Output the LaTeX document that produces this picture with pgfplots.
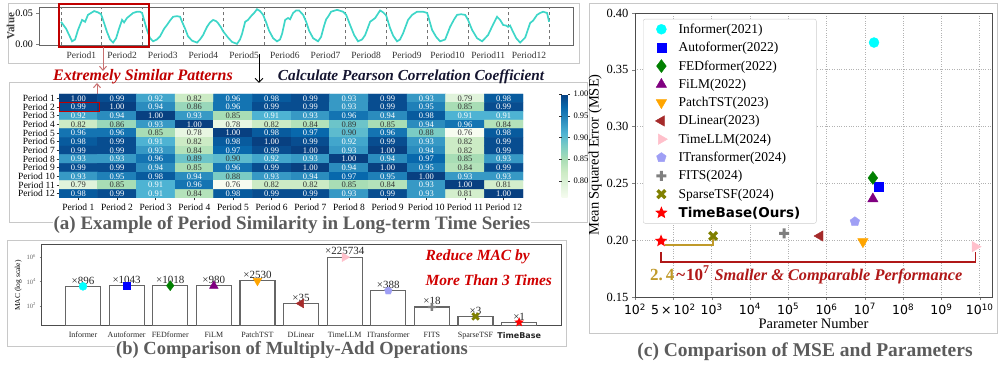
\documentclass[border=0pt]{standalone}
\usepackage{fontspec}
\setmainfont{Liberation Serif}
\newfontfamily\dejavu{DejaVu Sans}
\usepackage{pgfplots}
\pgfplotsset{compat=1.18}
\usepackage{pgfplotstable}
\usetikzlibrary{arrows.meta}

\definecolor{tsline}{HTML}{3ED6C8}
\definecolor{boxgray}{HTML}{C8C8C8}
\definecolor{titlegray}{HTML}{5C5C5C}
\definecolor{darkred}{HTML}{C00000}
\definecolor{arrowred}{HTML}{C87070}
\definecolor{navytext}{HTML}{151530}
\definecolor{gold}{HTML}{C09A2A}
\definecolor{bracketred}{HTML}{B01818}
\definecolor{redtext}{HTML}{D00000}
\definecolor{cyanc}{HTML}{00FFFF}
\definecolor{bluec}{HTML}{0000FF}
\definecolor{greenc}{HTML}{008000}
\definecolor{purplec}{HTML}{800080}
\definecolor{orangec}{HTML}{FFA500}
\definecolor{brownc}{HTML}{A52A2A}
\definecolor{pinkc}{HTML}{FFC0CB}
\definecolor{lavc}{HTML}{9F9FF5}
\definecolor{grayc}{HTML}{808080}
\definecolor{olivec}{HTML}{808000}
\definecolor{redc}{HTML}{FF0000}

\pgfdeclareplotmark{fstar}{%
  \pgfpathmoveto{\pgfpointpolar{90}{\pgfplotmarksize}}%
  \pgfpathlineto{\pgfpointpolar{126}{0.45\pgfplotmarksize}}%
  \pgfpathlineto{\pgfpointpolar{162}{\pgfplotmarksize}}%
  \pgfpathlineto{\pgfpointpolar{198}{0.45\pgfplotmarksize}}%
  \pgfpathlineto{\pgfpointpolar{234}{\pgfplotmarksize}}%
  \pgfpathlineto{\pgfpointpolar{270}{0.45\pgfplotmarksize}}%
  \pgfpathlineto{\pgfpointpolar{306}{\pgfplotmarksize}}%
  \pgfpathlineto{\pgfpointpolar{342}{0.45\pgfplotmarksize}}%
  \pgfpathlineto{\pgfpointpolar{18}{\pgfplotmarksize}}%
  \pgfpathlineto{\pgfpointpolar{54}{0.45\pgfplotmarksize}}%
  \pgfpathclose\pgfusepathqfill}
\pgfdeclareplotmark{fplus}{%
  \pgfpathrectangle{\pgfpoint{-\pgfplotmarksize}{-0.3\pgfplotmarksize}}{\pgfpoint{2\pgfplotmarksize}{0.6\pgfplotmarksize}}%
  \pgfpathrectangle{\pgfpoint{-0.3\pgfplotmarksize}{-\pgfplotmarksize}}{\pgfpoint{0.6\pgfplotmarksize}{2\pgfplotmarksize}}%
  \pgfusepathqfill}

\pgfplotsset{
 mInformer/.style={mark=*, color=cyanc},
 mAuto/.style={mark=square*, color=bluec},
 mFED/.style={mark=diamond*, color=greenc},
 mFiLM/.style={mark=triangle*, color=purplec},
 mPatch/.style={mark=triangle*, color=orangec, mark options={rotate=180}},
 mDL/.style={mark=triangle*, color=brownc, mark options={rotate=90}},
 mLLM/.style={mark=triangle*, color=pinkc, mark options={rotate=-90}},
 mIT/.style={mark=pentagon*, color=lavc},
 mFITS/.style={mark=fplus, color=grayc},
 mSparse/.style={mark=fplus, color=olivec, mark options={rotate=45}},
 mTB/.style={mark=fstar, color=redc},
}

\pgfplotstableread[row sep=\\]{
x y v\\
1 1 1.00\\ 2 1 0.99\\ 3 1 0.92\\ 4 1 0.82\\ 5 1 0.96\\ 6 1 0.98\\ 7 1 0.99\\ 8 1 0.93\\ 9 1 0.99\\ 10 1 0.93\\ 11 1 0.79\\ 12 1 0.98\\
1 2 0.99\\ 2 2 1.00\\ 3 2 0.94\\ 4 2 0.86\\ 5 2 0.96\\ 6 2 0.99\\ 7 2 0.99\\ 8 2 0.93\\ 9 2 0.99\\ 10 2 0.95\\ 11 2 0.85\\ 12 2 0.99\\
1 3 0.92\\ 2 3 0.94\\ 3 3 1.00\\ 4 3 0.93\\ 5 3 0.85\\ 6 3 0.91\\ 7 3 0.93\\ 8 3 0.96\\ 9 3 0.94\\ 10 3 0.98\\ 11 3 0.91\\ 12 3 0.91\\
1 4 0.82\\ 2 4 0.86\\ 3 4 0.93\\ 4 4 1.00\\ 5 4 0.78\\ 6 4 0.82\\ 7 4 0.84\\ 8 4 0.89\\ 9 4 0.85\\ 10 4 0.94\\ 11 4 0.96\\ 12 4 0.84\\
1 5 0.96\\ 2 5 0.96\\ 3 5 0.85\\ 4 5 0.78\\ 5 5 1.00\\ 6 5 0.98\\ 7 5 0.97\\ 8 5 0.90\\ 9 5 0.96\\ 10 5 0.88\\ 11 5 0.76\\ 12 5 0.98\\
1 6 0.98\\ 2 6 0.99\\ 3 6 0.91\\ 4 6 0.82\\ 5 6 0.98\\ 6 6 1.00\\ 7 6 0.99\\ 8 6 0.92\\ 9 6 0.99\\ 10 6 0.93\\ 11 6 0.82\\ 12 6 0.99\\
1 7 0.99\\ 2 7 0.99\\ 3 7 0.93\\ 4 7 0.84\\ 5 7 0.97\\ 6 7 0.99\\ 7 7 1.00\\ 8 7 0.93\\ 9 7 1.00\\ 10 7 0.94\\ 11 7 0.82\\ 12 7 0.99\\
1 8 0.93\\ 2 8 0.93\\ 3 8 0.96\\ 4 8 0.89\\ 5 8 0.90\\ 6 8 0.92\\ 7 8 0.93\\ 8 8 1.00\\ 9 8 0.94\\ 10 8 0.97\\ 11 8 0.85\\ 12 8 0.93\\
1 9 0.99\\ 2 9 0.99\\ 3 9 0.94\\ 4 9 0.85\\ 5 9 0.96\\ 6 9 0.99\\ 7 9 1.00\\ 8 9 0.94\\ 9 9 1.00\\ 10 9 0.95\\ 11 9 0.84\\ 12 9 0.99\\
1 10 0.93\\ 2 10 0.95\\ 3 10 0.98\\ 4 10 0.94\\ 5 10 0.88\\ 6 10 0.93\\ 7 10 0.94\\ 8 10 0.97\\ 9 10 0.95\\ 10 10 1.00\\ 11 10 0.93\\ 12 10 0.93\\
1 11 0.79\\ 2 11 0.85\\ 3 11 0.91\\ 4 11 0.96\\ 5 11 0.76\\ 6 11 0.82\\ 7 11 0.82\\ 8 11 0.85\\ 9 11 0.84\\ 10 11 0.93\\ 11 11 1.00\\ 12 11 0.81\\
1 12 0.98\\ 2 12 0.99\\ 3 12 0.91\\ 4 12 0.84\\ 5 12 0.98\\ 6 12 0.99\\ 7 12 0.99\\ 8 12 0.93\\ 9 12 0.99\\ 10 12 0.93\\ 11 12 0.81\\ 12 12 1.00\\
}\heat

\pgfplotstableread{
x mac r
0 3942 896
1 4589 1043
2 4479 1018
3 4312 980
4 11132 2530
5 154 35
6 993230 225734
7 1707 388
8 79.2 18
9 13.2 3
10 4.4 1
}\mactab

\begin{document}
\begin{tikzpicture}
\path (0pt,0pt) rectangle (998pt,362pt);
% panel frames
\draw[boxgray, line width=0.8pt] (8pt,299pt) rectangle (579pt,359pt);
\draw[boxgray, line width=0.8pt] (9pt,140pt) rectangle (587pt,280pt);
\draw[boxgray, line width=0.8pt] (7pt,16pt) rectangle (566pt,122pt);
\draw[boxgray, line width=0.8pt] (589pt,29pt) rectangle (997pt,359pt);

% ---------------- time series
\begin{axis}[at={(39pt,316.5pt)}, anchor=south west, scale only axis,
  width=534pt, height=38.5pt, xmin=-13, xmax=302, ymin=-0.0016, ymax=0.0595,
  xtick={12,36,...,276},
  xticklabels={Period1,Period2,Period3,Period4,Period5,Period6,Period7,Period8,Period9,Period10,Period11,Period12},
  xticklabel style={font=\fontsize{9.5}{10}\selectfont, text=black!80},
  major x tick style={draw=none},
  extra x ticks={0,24,...,288}, extra x tick labels={},
  extra x tick style={grid=major, major grid style={dashed, black!55, line width=0.7pt}, major tick length=0pt},
  scaled y ticks=false,
  ytick={0,0.05}, yticklabels={0.00,0.05},
  yticklabel style={font=\fontsize{10}{11}\selectfont},
  ytick pos=left, tick align=outside, major tick length=2.5pt,
  ylabel={Value}, ylabel style={font=\fontsize{11}{12}\selectfont\bfseries, yshift=-6pt, text=black!75},
  axis line style={black!60, line width=0.7pt}]
\addplot[tsline, line width=1.7pt] coordinates {
(0,0.036) (3,0.025) (5.3,0.012) (6.5,0.005) (8.3,0.008) (10,0.023) (12.4,0.039) (14.2,0.036)
(15.9,0.047) (17.7,0.050) (19.5,0.053) (21.8,0.051) (23.6,0.048)
(24.8,0.039) (27.1,0.020) (28.9,0.008) (30.7,0.003) (32.5,0.010) (34.2,0.025) (36,0.039)
(37.2,0.035) (38.9,0.042) (42.5,0.050) (44.8,0.052) (46.6,0.052) (47.8,0.050)
(50.7,0.023) (52.5,0.010) (54.3,0.005) (56.6,0.008) (58.4,0.013) (60.8,0.025) (62.5,0.031)
(64.3,0.038) (66.1,0.044) (68.4,0.045) (70.2,0.044) (71.4,0.036)
(73.2,0.025) (74.9,0.013) (77.3,0.006) (80.2,0.003) (82,0.008) (83.8,0.015) (86.1,0.028)
(87.9,0.035) (89.7,0.039) (91.5,0.037) (92.6,0.034) (94.4,0.027) (95.6,0.021)
(98.5,0.011) (100.9,0.004) (103.8,0.001) (105.6,0.008) (106.8,0.017) (108.6,0.036)
(110.3,0.039) (112.1,0.045) (113.9,0.050) (115.6,0.056) (117.4,0.053) (119.2,0.047)
(121,0.035) (122.7,0.022) (125.1,0.010) (127.4,0.005) (129.2,0.008) (130.4,0.017)
(132.2,0.039) (133.9,0.042) (135.1,0.040) (136.9,0.050) (138.7,0.054) (140.4,0.054) (142.8,0.047)
(144.6,0.036) (146.3,0.022) (148.7,0.010) (151.6,0.005) (153.4,0.012) (155.2,0.030)
(156.4,0.040) (157.5,0.044) (159.3,0.052) (162.8,0.055) (166.4,0.052) (168.2,0.047)
(170.5,0.031) (172.9,0.015) (175.2,0.005) (177.6,0.008) (179.4,0.015) (182.3,0.036)
(185.3,0.042) (188.2,0.054) (190,0.051) (191.8,0.046)
(194.1,0.026) (195.9,0.014) (198.2,0.005) (200,0.008) (201.8,0.018) (204.7,0.039)
(207.1,0.047) (210,0.052) (213.6,0.052) (216,0.050)
(218.9,0.023) (221.3,0.012) (223.6,0.005) (226.6,0.008) (229.5,0.028) (231.9,0.040)
(233.6,0.047) (236,0.048) (238.4,0.047) (240.1,0.039)
(242.5,0.023) (245.4,0.010) (248.4,0.005) (251.9,0.015) (254.9,0.032) (257.2,0.044)
(259,0.039) (260.8,0.031) (262.6,0.030) (263.7,0.028)
(264.9,0.030) (266.1,0.023) (268.5,0.010) (270.8,0.003) (273.8,0.011) (276.7,0.034)
(278.5,0.038) (280.8,0.047) (282.6,0.050) (284.4,0.052) (286.7,0.050) (287.9,0.036)
};
\end{axis}
\draw[darkred, line width=1.5pt] (59pt,358pt) rectangle (149pt,315pt);

% arrows and texts between
\draw[-{Straight Barb[length=4pt,width=7pt]}, arrowred, line width=1pt] (103pt,315pt) -- (103pt,291pt);
\draw[-{Straight Barb[length=4pt,width=7pt]}, arrowred, line width=1pt] (97pt,268pt) -- (97pt,279pt);
\draw[-{Straight Barb[length=4pt,width=8pt]}, black, line width=1pt] (259pt,308pt) -- (259pt,279pt);
\node[font=\fontsize{16}{17}\selectfont\bfseries\itshape, text=darkred] at (143pt,285pt) {Extremely Similar Patterns};
\node[font=\fontsize{15.3}{16}\selectfont\bfseries\itshape, text=navytext] at (411pt,285pt) {Calculate Pearson Correlation Coefficient};

% ---------------- heatmap
\begin{axis}[at={(59pt,164pt)}, anchor=south west, scale only axis,
  width=464pt, height=104pt,
  xmin=0.5, xmax=12.5, ymin=0.5, ymax=12.5, y dir=reverse,
  xtick={1,...,12}, ytick={1,...,12},
  xticklabels={Period 1,Period 2,Period 3,Period 4,Period 5,Period 6,Period 7,Period 8,Period 9,Period 10,Period 11,Period 12},
  yticklabels={Period 1,Period 2,Period 3,Period 4,Period 5,Period 6,Period 7,Period 8,Period 9,Period 10,Period 11,Period 12},
  tick label style={font=\fontsize{9.5}{10}\selectfont},
  yticklabel style={inner sep=1.5pt},
  tick align=outside, major tick length=2.5pt, xtick pos=bottom, ytick pos=left,
  tick style={black!80, line width=0.6pt},
  axis line style={draw=none},
  colormap={gnbu}{rgb255=(247,252,240) rgb255=(224,243,219) rgb255=(204,235,197) rgb255=(168,221,181) rgb255=(123,204,196) rgb255=(78,179,211) rgb255=(43,140,190) rgb255=(8,104,172) rgb255=(8,64,129)},
  point meta min=0.76, point meta max=1.0,
  colorbar,
  colorbar style={at={(parent axis.north east)}, anchor=north west, xshift=30pt,
    scale only axis, width=6pt, height=104pt,
    ytick={0.80,0.85,0.90,0.95,1.00},
    yticklabel style={font=\fontsize{8.5}{9}\selectfont, /pgf/number format/.cd, fixed, fixed zerofill, precision=2, assume math mode=true},
    tick align=outside, major tick length=2.5pt, axis line style={draw=none}, tick style={black!80}}]
\addplot[matrix plot*, mesh/cols=12, mesh/rows=12, point meta=explicit] table[x=x,y=y,meta=v]{\heat};
\addplot[only marks, mark=*, mark size=0pt, point meta=explicit symbolic,
  nodes near coords={\ifdim\pgfplotspointmeta pt>0.905pt\color{white}\else\color{black!80}\fi\pgfplotspointmeta},
  nodes near coords align={center},
  every node near coord/.append style={font=\fontsize{8.5}{9}\selectfont, inner sep=0pt, anchor=center}]
  table[x=x,y=y,meta=v]{\heat};
\draw[darkred, line width=1.3pt] (axis cs:0.5,1.45) rectangle (axis cs:1.55,2.5);
\end{axis}
\node[font=\fontsize{19}{20}\selectfont\bfseries, text=titlegray, fill=white, inner sep=1pt] at (292pt,137pt) {(a) Example of Period Similarity in Long-term Time Series};

% ---------------- MAC bars
\begin{axis}[at={(42pt,36pt)}, anchor=south west, scale only axis,
  width=519pt, height=81pt,
  ymode=log, ymin=2.15, ymax=1e7, xmin=-0.94, xmax=10.96, log origin=infty,
  xtick={0,...,10},
  xticklabels={Informer,Autoformer,FEDformer,FiLM,PatchTST,DLinear,TimeLLM,ITransformer,FITS,SparseTSF,{\dejavu\bfseries TimeBase}},
  xticklabel style={font=\fontsize{8}{9}\selectfont, text=black!85},
  major x tick style={draw=none},
  ytick={1e2,1e4,1e6}, yticklabels={10\textsuperscript{2},10\textsuperscript{4},10\textsuperscript{6}},
  yticklabel style={font=\fontsize{6.5}{7}\selectfont, text=black!60},
  ytick pos=left, tick align=outside, major tick length=2.5pt,
  minor tick length=0pt,
  ylabel={MAC (log scale)}, ylabel style={font=\fontsize{7.5}{8}\selectfont, yshift=-2pt},
  axis line style={black!70, line width=1pt}]
\addplot[ybar, bar width=35pt, fill=white, draw=black!60, line width=1.2pt,
  point meta=explicit symbolic, nodes near coords={×\pgfplotspointmeta},
  every node near coord/.append style={font=\fontsize{11}{12}\selectfont, black!85, inner sep=1.5pt}]
  table[x=x,y=mac,meta=r]{\mactab};
\addplot[only marks, mInformer, mark size=4pt] coordinates {(0,3942)};
\addplot[only marks, mAuto, mark size=3.8pt] coordinates {(1,4589)};
\addplot[only marks, mFED, mark size=5pt] coordinates {(2,4479)};
\addplot[only marks, mFiLM, mark size=5pt] coordinates {(3,4312)};
\addplot[only marks, mPatch, mark size=5pt] coordinates {(4,11132)};
\addplot[only marks, mDL, mark size=5pt] coordinates {(5,154)};
\addplot[only marks, mLLM, mark size=5pt] coordinates {(6,993230)};
\addplot[only marks, mIT, mark size=4pt] coordinates {(7,1707)};
\addplot[only marks, mFITS, mark size=4pt] coordinates {(8,79.2)};
\addplot[only marks, mSparse, mark size=4.5pt] coordinates {(9,13.2)};
\addplot[only marks, mTB, mark size=5pt] coordinates {(10,4.4)};
\end{axis}
\node[anchor=west, font=\fontsize{15.5}{16}\selectfont\bfseries\itshape, text=redtext] at (422pt,105pt) {Reduce MAC by};
\node[anchor=west, font=\fontsize{15.5}{16}\selectfont\bfseries\itshape, text=redtext] at (422pt,82pt) {More Than 3 Times};
\node[font=\fontsize{18.5}{19}\selectfont\bfseries, text=titlegray, fill=white, inner sep=1pt] at (292pt,12pt) {(b) Comparison of Multiply-Add Operations};

% ---------------- MSE vs params
\begin{axis}[at={(635pt,65pt)}, anchor=south west, scale only axis,
  width=357pt, height=284pt,
  xmin=0, xmax=9.32, ymin=0.15, ymax=0.40,
  xtick={0,...,9},
  xticklabels={10\textsuperscript{2},5\,×\,10\textsuperscript{2},10\textsuperscript{3},10\textsuperscript{4},10\textsuperscript{5},10\textsuperscript{6},10\textsuperscript{7},10\textsuperscript{8},10\textsuperscript{9},10\textsuperscript{10}},
  xticklabel style={font=\dejavu\fontsize{12.5}{13}\selectfont},
  ytick={0.15,0.20,0.25,0.30,0.35,0.40},
  yticklabel style={font=\fontsize{12.5}{13}\selectfont, /pgf/number format/.cd, fixed, fixed zerofill, precision=2, assume math mode=true},
  xtick pos=bottom, ytick pos=left, tick align=outside, major tick length=3pt,
  grid=major, grid style={dotted, black!30, line width=0.6pt},
  axis line style={black!70, line width=0.8pt},
  xlabel={Parameter Number}, xlabel style={font=\fontsize{14.5}{16}\selectfont, yshift=3pt},
  ylabel={Mean Squared Error (MSE)}, ylabel style={font=\fontsize{14.5}{16}\selectfont, yshift=-2pt},
  legend cell align=left,
  legend image code/.code={\draw[mark repeat=2,mark phase=2] plot coordinates {(0cm,0cm) (0.37cm,0cm) (0.74cm,0cm)};},
  legend style={at={(0.0224,0.979)}, anchor=north west, draw=black!20, rounded corners=2pt,
    font=\fontsize{13.5}{14}\selectfont, row sep=4.2pt, inner xsep=12pt, inner ysep=3pt,
    nodes={inner xsep=4pt, inner ysep=1.6pt},
    /tikz/every odd column/.append style={column sep=7pt}}]
\addplot[only marks, mInformer, mark size=5pt] coordinates {(6.24,0.374)};
\addlegendentry{Informer(2021)}
\addplot[only marks, mAuto, mark size=4.5pt] coordinates {(6.35,0.2468)};
\addlegendentry{Autoformer(2022)}
\addplot[only marks, mFED, mark size=6.5pt] coordinates {(6.21,0.2548)};
\addlegendentry{FEDformer(2022)}
\addplot[only marks, mFiLM, mark size=6pt] coordinates {(6.21,0.2363)};
\addlegendentry{FiLM(2022)}
\addplot[only marks, mPatch, mark size=6pt] coordinates {(5.95,0.1987)};
\addlegendentry{PatchTST(2023)}
\addplot[only marks, mDL, mark size=6pt] coordinates {(4.83,0.2037)};
\addlegendentry{DLinear(2023)}
\addplot[only marks, mLLM, mark size=6pt] coordinates {(8.88,0.1943)};
\addlegendentry{TimeLLM(2024)}
\addplot[only marks, mIT, mark size=5pt] coordinates {(5.74,0.2163)};
\addlegendentry{ITransformer(2024)}
\addplot[only marks, mFITS, mark size=5pt] coordinates {(3.89,0.2061)};
\addlegendentry{FITS(2024)}
\addplot[only marks, mSparse, mark size=5.5pt] coordinates {(2.04,0.2037)};
\addlegendentry{SparseTSF(2024)}
\addplot[only marks, mTB, mark size=6.5pt] coordinates {(0.68,0.1993)};
\addlegendentry{{\dejavu\bfseries TimeBase(Ours)}}
\draw[gold, line width=1.3pt] (axis cs:0.78,0.1958) -- (axis cs:2.04,0.1958) -- (axis cs:2.04,0.2019);
\draw[bracketred, line width=1.3pt] (axis cs:0.68,0.1896) -- (axis cs:0.68,0.1808) -- (axis cs:8.88,0.1808) -- (axis cs:8.88,0.1896);
\node[anchor=west, inner sep=0pt] at (axis cs:0.39,0.1694) {{\color{gold}\fontsize{17}{18}\selectfont\bfseries 2.\hspace{3pt}4}\hspace{2pt}{\color{bracketred}\fontsize{17}{18}\selectfont\bfseries\textasciitilde\hspace{1pt}10\textsuperscript{7}}\hspace{5pt}{\color{bracketred}\fontsize{16.3}{17}\selectfont\bfseries\itshape Smaller \& Comparable Performance}};
\end{axis}
\node[font=\fontsize{19.5}{20}\selectfont\bfseries, text=titlegray] at (805pt,10pt) {(c) Comparison of MSE and Parameters};
\end{tikzpicture}
\end{document}
